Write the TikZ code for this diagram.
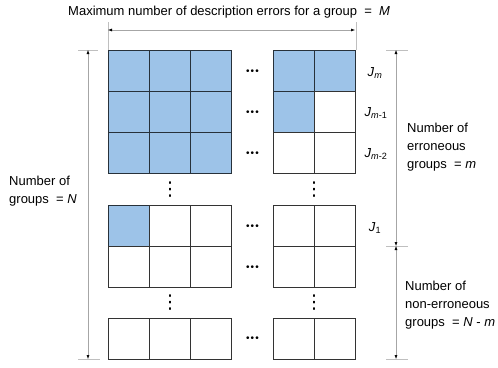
\documentclass[tikz,border=0pt]{standalone}
\usepackage{fontspec}
\setmainfont{Liberation Sans}
\newfontfamily\symfont{DejaVu Sans}
\usetikzlibrary{arrows.meta,positioning}
\definecolor{errblue}{RGB}{157,195,232}

\begin{document}
\begin{tikzpicture}[
  x=1pt,y=-1pt,
  font=\fontsize{13}{18}\selectfont,
  cell/.style={draw=black!80,line width=.8pt,minimum size=41pt,inner sep=0pt,anchor=north west},
  hit/.style={cell,fill=errblue,draw=black!75!errblue},
  dots/.style={inner sep=0pt,font=\fontsize{10}{10}\selectfont},
  vdots/.style={inner sep=0pt,font=\symfont\fontsize{19}{19}\selectfont},
  ext/.style={draw=black!25,line width=.5pt},
  dim/.style={draw=black!35,line width=.5pt,{Latex[length=4pt,width=3pt,black]}-{Latex[length=4pt,width=3pt,black]}},
  label/.style={align=left,inner sep=0pt,anchor=west}
]
  \useasboundingbox (0,0) rectangle (498,367);

  % erroneous groups J_m .. J_{m-2}
  \foreach \r in {0,1,2}
    \foreach \c in {0,1,2}
      \node[hit] (L\r\c) at (108+41*\c,50+41*\r) {};
  \node[hit]  (R00) at (273,50) {};
  \node[hit]  (R01) at (314,50) {};
  \node[hit]  (R10) at (273,91) {};
  \node[cell] (R11) at (314,91) {};
  \node[cell] (R20) at (273,132) {};
  \node[cell] (R21) at (314,132) {};

  % J_1 and the first non-erroneous group
  \node[hit]  (B00) at (108,205) {};
  \node[cell] (B01) at (149,205) {};
  \node[cell] (B02) at (190,205) {};
  \node[cell] (B10) at (108,246) {};
  \node[cell] (B11) at (149,246) {};
  \node[cell] (B12) at (190,246) {};
  \foreach \r in {0,1}
    \foreach \c in {0,1}
      \node[cell] (S\r\c) at (273+41*\c,205+41*\r) {};

  % last group
  \foreach \c in {0,1,2}
    \node[cell] (C\c) at (108+41*\c,318) {};
  \foreach \c in {0,1}
    \node[cell] (D\c) at (273+41*\c,318) {};

  % ellipses
  \foreach \y/\n in {72/0,113/1,154/2,227/3,268/4,339/5}
    \node[dots] (h\n) at (252.5,\y) {•\hspace{1.2pt}•\hspace{1.2pt}•};
  \node[vdots] (v0) at (170,190) {⋮};
  \node[vdots] (v1) at (314,190) {⋮};
  \node[vdots] (v2) at (170,303) {⋮};
  \node[vdots] (v3) at (314,303) {⋮};

  % group labels
  \node (Jm)  at (375,73)  {\textit{J}\textsubscript{\textit{m}}};
  \node (Jm1) at (376,113) {\textit{J}\textsubscript{\textit{m}-1}};
  \node (Jm2) at (376,154) {\textit{J}\textsubscript{\textit{m}-2}};
  \node (J1)  at (375,228) {\textit{J}\textsubscript{1}};

  % dimension lines
  \coordinate (topL) at (108,30);
  \coordinate (topR) at (355,30);
  \draw[ext] (L00.north west) -- ++(0,-28);
  \draw[ext] (R01.north east) -- ++(0,-28);
  \draw[dim] (topL) -- (topR);

  \coordinate (leftT) at (88,50);
  \coordinate (leftB) at (88,359);
  \draw[ext] (78,50) -- (98,50);
  \draw[ext] (78,359) -- (100,359);
  \draw[dim] (leftT) -- (leftB);

  \coordinate (rightT) at (396,50);
  \coordinate (rightM) at (396,246);
  \coordinate (rightB) at (396,359);
  \draw[ext] (386,50) -- (408,50);
  \draw[ext] (386,246) -- (408,246);
  \draw[ext] (386,359) -- (408,359);
  \draw[dim] (rightT) -- (rightM);
  \draw[dim] (rightM) -- (rightB);

  % texts
  \node[label] (Mtxt) at (68,12) {Maximum number of description errors for a group~~=~~\textit{M}};
  \node[label] (Ntxt) at (9,191) {Number of\\groups~~=~\textit{N}};
  \node[label] (mtxt) at (407,147) {Number of\\erroneous\\groups~~=~\textit{m}};
  \node[label] (nmtxt) at (405,305) {Number of\\non-erroneous\\groups~~=~\textit{N}~-~\textit{m}};
\end{tikzpicture}
\end{document}
